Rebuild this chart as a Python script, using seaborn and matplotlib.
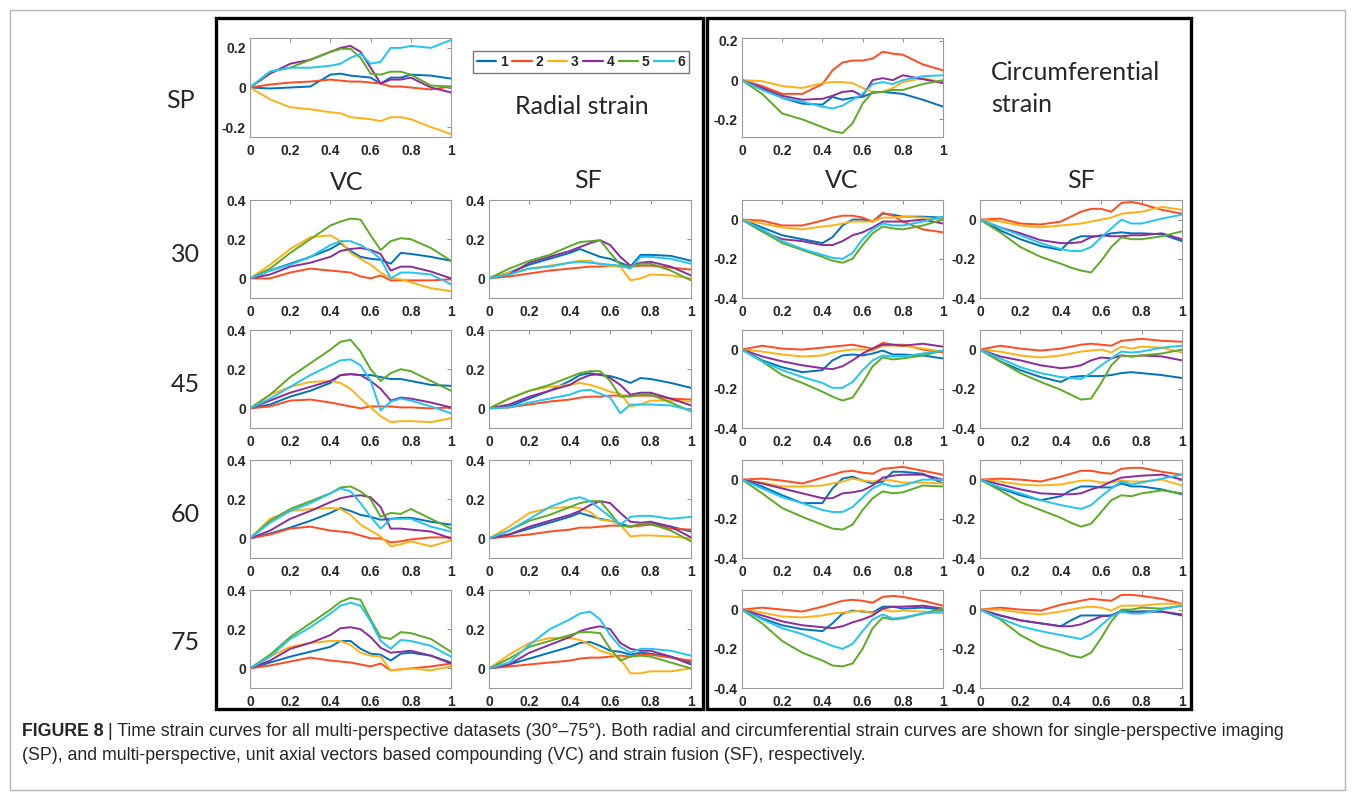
import numpy as np
import pandas as pd
import matplotlib
matplotlib.use("Agg")
import matplotlib.pyplot as plt
import seaborn as sns
from matplotlib.patches import Rectangle
from matplotlib.lines import Line2D

# normalised time axis shared by every curve
t = [0, 0.1, 0.2, 0.3, 0.4, 0.45, 0.5, 0.55, 0.6, 0.65, 0.7, 0.75, 0.8, 0.9, 1.0]
datasets = ['1', '2', '3', '4', '5', '6']
colors = ['#0072BD', '#FF4B1F', '#FFB015', '#8B2C9A', '#5DAA24', '#22C4F2']
xticks = [0, 0.2, 0.4, 0.6, 0.8, 1]

# ---- radial strain ----
rad_sp = [
    [0, -0.005, 0.0, 0.005, 0.065, 0.07, 0.06, 0.055, 0.05, 0.02, 0.05, 0.05, 0.065, 0.06, 0.045],
    [0, 0.015, 0.025, 0.03, 0.04, 0.035, 0.03, 0.03, 0.025, 0.02, 0.005, 0.005, 0.0, -0.01, 0.005],
    [0, -0.06, -0.1, -0.11, -0.125, -0.13, -0.15, -0.155, -0.16, -0.17, -0.15, -0.15, -0.16, -0.2, -0.235],
    [0, 0.07, 0.12, 0.14, 0.18, 0.2, 0.21, 0.18, 0.1, 0.02, 0.04, 0.04, 0.05, 0.0, -0.025],
    [0, 0.08, 0.1, 0.14, 0.18, 0.195, 0.195, 0.15, 0.07, 0.065, 0.08, 0.08, 0.065, 0.01, 0.005],
    [0, 0.08, 0.1, 0.1, 0.11, 0.12, 0.15, 0.17, 0.12, 0.13, 0.2, 0.2, 0.21, 0.2, 0.24],
]
rad_vc30 = [
    [0, 0.04, 0.075, 0.11, 0.15, 0.18, 0.14, 0.11, 0.1, 0.095, 0.075, 0.13, 0.125, 0.11, 0.09],
    [0, 0.0, 0.03, 0.05, 0.04, 0.035, 0.03, 0.01, 0.0, 0.015, -0.01, -0.01, -0.01, -0.01, -0.005],
    [0, 0.07, 0.15, 0.21, 0.22, 0.19, 0.13, 0.1, 0.07, 0.03, 0.0, -0.005, -0.02, -0.05, -0.065],
    [0, 0.02, 0.06, 0.08, 0.11, 0.14, 0.15, 0.155, 0.145, 0.125, 0.04, 0.06, 0.06, 0.035, 0.0],
    [0, 0.05, 0.13, 0.2, 0.27, 0.29, 0.305, 0.3, 0.22, 0.145, 0.19, 0.205, 0.2, 0.155, 0.09],
    [0, 0.04, 0.07, 0.11, 0.17, 0.19, 0.19, 0.17, 0.14, 0.1, 0.0, 0.03, 0.03, 0.02, -0.03],
]
rad_sf30 = [
    [0, 0.03, 0.07, 0.1, 0.13, 0.15, 0.13, 0.11, 0.1, 0.08, 0.06, 0.12, 0.12, 0.115, 0.09],
    [0, 0.01, 0.025, 0.04, 0.05, 0.055, 0.06, 0.06, 0.065, 0.06, 0.06, 0.065, 0.065, 0.055, 0.045],
    [0, 0.03, 0.05, 0.065, 0.08, 0.09, 0.09, 0.07, 0.065, 0.06, -0.01, 0.0, 0.02, 0.015, 0.0],
    [0, 0.02, 0.08, 0.11, 0.14, 0.16, 0.18, 0.195, 0.17, 0.11, 0.065, 0.08, 0.085, 0.06, 0.015],
    [0, 0.05, 0.09, 0.12, 0.165, 0.185, 0.19, 0.195, 0.13, 0.07, 0.06, 0.075, 0.075, 0.04, -0.01],
    [0, 0.02, 0.05, 0.06, 0.08, 0.085, 0.08, 0.075, 0.07, 0.065, 0.05, 0.11, 0.11, 0.1, 0.075],
]
rad_vc45 = [
    [0, 0.02, 0.06, 0.09, 0.13, 0.17, 0.175, 0.17, 0.17, 0.16, 0.15, 0.15, 0.14, 0.12, 0.115],
    [0, 0.01, 0.04, 0.045, 0.03, 0.02, 0.01, 0.0, 0.01, 0.01, 0.01, 0.005, 0.005, 0.0, 0.005],
    [0, 0.07, 0.11, 0.135, 0.14, 0.13, 0.1, 0.05, 0.005, -0.04, -0.07, -0.065, -0.065, -0.07, -0.05],
    [0, 0.04, 0.08, 0.11, 0.14, 0.17, 0.175, 0.17, 0.14, 0.1, 0.04, 0.055, 0.05, 0.03, 0.005],
    [0, 0.07, 0.16, 0.23, 0.3, 0.34, 0.35, 0.29, 0.2, 0.14, 0.18, 0.2, 0.19, 0.14, 0.09],
    [0, 0.05, 0.11, 0.17, 0.22, 0.245, 0.25, 0.22, 0.14, -0.01, 0.035, 0.05, 0.04, 0.01, -0.025],
]
rad_sf45 = [
    [0, 0.01, 0.05, 0.09, 0.14, 0.17, 0.18, 0.17, 0.165, 0.15, 0.13, 0.155, 0.15, 0.13, 0.105],
    [0, 0.005, 0.02, 0.035, 0.045, 0.055, 0.06, 0.06, 0.065, 0.065, 0.065, 0.065, 0.065, 0.05, 0.045],
    [0, 0.05, 0.09, 0.11, 0.12, 0.13, 0.12, 0.105, 0.085, 0.075, 0.01, 0.02, 0.04, 0.04, 0.035],
    [0, 0.02, 0.06, 0.09, 0.12, 0.15, 0.17, 0.175, 0.155, 0.12, 0.07, 0.08, 0.08, 0.05, 0.015],
    [0, 0.05, 0.09, 0.12, 0.16, 0.18, 0.19, 0.19, 0.14, 0.06, 0.06, 0.07, 0.07, 0.03, -0.015],
    [0, 0.005, 0.03, 0.05, 0.07, 0.09, 0.095, 0.075, 0.055, -0.025, 0.02, 0.02, 0.02, 0.015, -0.01],
]
rad_vc60 = [
    [0, 0.025, 0.055, 0.09, 0.13, 0.155, 0.14, 0.12, 0.11, 0.095, 0.1, 0.105, 0.105, 0.085, 0.07],
    [0, 0.02, 0.05, 0.06, 0.04, 0.035, 0.03, 0.015, 0.0, 0.0, -0.02, -0.015, -0.005, 0.005, 0.005],
    [0, 0.1, 0.14, 0.15, 0.155, 0.15, 0.12, 0.07, 0.04, 0.01, -0.04, -0.03, -0.015, -0.04, -0.01],
    [0, 0.04, 0.1, 0.14, 0.185, 0.205, 0.215, 0.22, 0.21, 0.16, 0.05, 0.05, 0.045, 0.035, 0.0],
    [0, 0.09, 0.15, 0.19, 0.23, 0.26, 0.265, 0.24, 0.2, 0.11, 0.13, 0.125, 0.15, 0.1, 0.05],
    [0, 0.08, 0.14, 0.18, 0.23, 0.255, 0.24, 0.18, 0.11, 0.05, 0.1, 0.1, 0.1, 0.06, 0.035],
]
rad_sf60 = [
    [0, 0.02, 0.05, 0.08, 0.11, 0.13, 0.115, 0.1, 0.09, 0.075, 0.06, 0.07, 0.075, 0.06, 0.035],
    [0, 0.01, 0.02, 0.035, 0.045, 0.055, 0.055, 0.06, 0.065, 0.065, 0.06, 0.065, 0.07, 0.05, 0.045],
    [0, 0.06, 0.13, 0.155, 0.16, 0.155, 0.135, 0.095, 0.09, 0.07, 0.01, 0.015, 0.015, 0.01, 0.0],
    [0, 0.02, 0.06, 0.09, 0.12, 0.14, 0.17, 0.19, 0.18, 0.13, 0.085, 0.08, 0.085, 0.06, 0.005],
    [0, 0.04, 0.09, 0.12, 0.16, 0.18, 0.19, 0.19, 0.13, 0.065, 0.06, 0.075, 0.075, 0.04, -0.015],
    [0, 0.04, 0.1, 0.16, 0.2, 0.21, 0.19, 0.15, 0.11, 0.07, 0.11, 0.115, 0.115, 0.1, 0.11],
]
rad_vc75 = [
    [0, 0.03, 0.06, 0.085, 0.11, 0.14, 0.14, 0.1, 0.075, 0.07, 0.04, 0.075, 0.08, 0.065, 0.03],
    [0, 0.015, 0.035, 0.055, 0.04, 0.035, 0.03, 0.02, 0.01, 0.025, -0.01, -0.005, 0.0, 0.01, 0.025],
    [0, 0.06, 0.11, 0.13, 0.14, 0.14, 0.12, 0.08, 0.065, 0.06, -0.01, -0.005, 0.0, -0.01, 0.01],
    [0, 0.04, 0.1, 0.13, 0.17, 0.205, 0.21, 0.2, 0.16, 0.105, 0.08, 0.085, 0.09, 0.065, 0.025],
    [0, 0.07, 0.16, 0.23, 0.3, 0.34, 0.36, 0.35, 0.25, 0.16, 0.15, 0.185, 0.18, 0.15, 0.085],
    [0, 0.06, 0.15, 0.21, 0.28, 0.32, 0.335, 0.32, 0.24, 0.14, 0.1, 0.145, 0.14, 0.115, 0.06],
]
rad_sf75 = [
    [0, 0.02, 0.05, 0.08, 0.11, 0.13, 0.135, 0.115, 0.09, 0.085, 0.07, 0.08, 0.075, 0.06, 0.03],
    [0, 0.01, 0.02, 0.03, 0.04, 0.05, 0.055, 0.055, 0.06, 0.065, 0.06, 0.07, 0.07, 0.055, 0.04],
    [0, 0.07, 0.13, 0.155, 0.155, 0.145, 0.12, 0.09, 0.075, 0.05, -0.025, -0.025, -0.015, -0.015, 0.0],
    [0, 0.02, 0.08, 0.12, 0.16, 0.19, 0.205, 0.215, 0.2, 0.13, 0.1, 0.09, 0.09, 0.06, 0.02],
    [0, 0.05, 0.11, 0.14, 0.17, 0.185, 0.185, 0.18, 0.1, 0.04, 0.06, 0.065, 0.06, 0.03, 0.0],
    [0, 0.03, 0.12, 0.2, 0.25, 0.28, 0.29, 0.25, 0.17, 0.11, 0.08, 0.1, 0.1, 0.09, 0.065],
]

# ---- circumferential strain ----
circ_sp = [
    [0, -0.04, -0.09, -0.12, -0.125, -0.085, -0.1, -0.09, -0.085, -0.065, -0.06, -0.065, -0.07, -0.1, -0.135],
    [0, -0.03, -0.07, -0.07, -0.02, 0.05, 0.09, 0.1, 0.1, 0.11, 0.145, 0.135, 0.13, 0.08, 0.05],
    [0, -0.005, -0.03, -0.04, -0.015, -0.01, -0.01, -0.015, -0.04, -0.06, -0.06, -0.04, -0.01, 0.01, -0.01],
    [0, -0.04, -0.08, -0.1, -0.095, -0.08, -0.06, -0.055, -0.08, 0.0, 0.01, 0.0, 0.025, 0.005, -0.015],
    [0, -0.07, -0.17, -0.2, -0.24, -0.26, -0.27, -0.22, -0.12, -0.06, -0.06, -0.05, -0.05, -0.02, 0.0],
    [0, -0.05, -0.09, -0.11, -0.135, -0.145, -0.13, -0.1, -0.07, -0.02, -0.01, -0.02, 0.0, 0.02, 0.025],
]
circ_vc30 = [
    [0, -0.04, -0.08, -0.1, -0.12, -0.09, -0.03, 0.0, 0.0, -0.01, 0.03, 0.025, 0.015, 0.015, 0.01],
    [0, -0.005, -0.03, -0.03, -0.005, 0.01, 0.02, 0.02, 0.01, -0.01, 0.035, 0.02, -0.01, -0.05, -0.065],
    [0, -0.02, -0.04, -0.05, -0.035, -0.03, -0.02, -0.01, -0.01, -0.01, 0.01, 0.01, 0.015, 0.01, 0.0],
    [0, -0.06, -0.1, -0.11, -0.13, -0.13, -0.11, -0.08, -0.065, -0.04, -0.01, -0.01, -0.01, 0.0, -0.02],
    [0, -0.06, -0.12, -0.155, -0.19, -0.21, -0.22, -0.2, -0.13, -0.07, -0.035, -0.045, -0.05, -0.03, 0.0],
    [0, -0.05, -0.11, -0.15, -0.18, -0.195, -0.2, -0.17, -0.1, -0.05, -0.02, -0.03, -0.03, -0.01, 0.015],
]
circ_sf30 = [
    [0, -0.055, -0.1, -0.135, -0.155, -0.105, -0.085, -0.085, -0.085, -0.07, -0.065, -0.07, -0.07, -0.075, -0.11],
    [0, 0.005, -0.02, -0.025, -0.01, 0.015, 0.04, 0.055, 0.055, 0.04, 0.085, 0.09, 0.08, 0.05, 0.03],
    [0, -0.01, -0.03, -0.04, -0.03, -0.025, -0.02, -0.01, 0.0, 0.01, 0.03, 0.035, 0.04, 0.065, 0.05],
    [0, -0.04, -0.07, -0.105, -0.12, -0.12, -0.115, -0.09, -0.08, -0.085, -0.085, -0.08, -0.08, -0.07, -0.1],
    [0, -0.065, -0.14, -0.19, -0.225, -0.245, -0.26, -0.27, -0.21, -0.14, -0.09, -0.1, -0.1, -0.085, -0.06],
    [0, -0.04, -0.08, -0.12, -0.15, -0.16, -0.16, -0.14, -0.09, -0.045, 0.0, -0.02, -0.02, 0.005, 0.025],
]
circ_vc45 = [
    [0, -0.055, -0.09, -0.115, -0.105, -0.055, -0.03, -0.025, -0.03, -0.02, -0.005, -0.025, -0.025, -0.03, -0.045],
    [0, 0.02, 0.005, 0.0, 0.01, 0.015, 0.02, 0.025, 0.015, 0.005, 0.035, 0.025, 0.025, 0.0, -0.015],
    [0, -0.01, -0.025, -0.035, -0.03, -0.015, -0.005, 0.0, 0.0, -0.005, 0.02, 0.02, 0.02, 0.005, -0.01],
    [0, -0.035, -0.06, -0.08, -0.095, -0.1, -0.085, -0.055, -0.02, 0.005, 0.025, 0.025, 0.02, 0.03, 0.015],
    [0, -0.06, -0.13, -0.17, -0.215, -0.24, -0.26, -0.245, -0.17, -0.085, -0.04, -0.05, -0.045, -0.03, -0.005],
    [0, -0.06, -0.105, -0.14, -0.17, -0.195, -0.195, -0.165, -0.105, -0.055, -0.03, -0.035, -0.035, -0.02, -0.005],
]
circ_sf45 = [
    [0, -0.06, -0.105, -0.14, -0.165, -0.14, -0.135, -0.135, -0.135, -0.13, -0.12, -0.115, -0.12, -0.13, -0.145],
    [0, 0.02, 0.005, -0.005, 0.005, 0.015, 0.025, 0.03, 0.025, 0.02, 0.045, 0.05, 0.055, 0.045, 0.04],
    [0, -0.01, -0.03, -0.04, -0.03, -0.02, -0.01, -0.005, 0.0, -0.015, 0.015, 0.005, 0.015, 0.01, -0.015],
    [0, -0.035, -0.055, -0.08, -0.095, -0.09, -0.08, -0.055, -0.04, -0.045, -0.03, -0.035, -0.03, -0.035, -0.055],
    [0, -0.06, -0.12, -0.165, -0.205, -0.23, -0.255, -0.25, -0.17, -0.08, -0.03, -0.035, -0.03, -0.02, 0.0],
    [0, -0.045, -0.09, -0.12, -0.14, -0.145, -0.15, -0.12, -0.08, -0.045, -0.01, -0.015, -0.01, 0.01, 0.02],
]
circ_vc60 = [
    [0, -0.035, -0.08, -0.12, -0.12, -0.045, 0.005, 0.015, -0.005, -0.02, -0.01, 0.04, 0.04, 0.03, -0.02],
    [0, 0.005, -0.005, -0.02, 0.01, 0.025, 0.04, 0.045, 0.035, 0.03, 0.055, 0.06, 0.065, 0.045, 0.025],
    [0, -0.015, -0.035, -0.035, -0.03, -0.02, -0.01, 0.005, -0.005, -0.01, 0.0, -0.005, -0.015, -0.015, -0.02],
    [0, -0.02, -0.045, -0.07, -0.095, -0.095, -0.07, -0.065, -0.055, -0.03, 0.01, 0.02, 0.025, 0.025, 0.0],
    [0, -0.07, -0.145, -0.19, -0.23, -0.25, -0.255, -0.23, -0.155, -0.095, -0.06, -0.07, -0.065, -0.03, -0.035],
    [0, -0.045, -0.09, -0.12, -0.155, -0.165, -0.165, -0.14, -0.09, -0.045, -0.02, -0.035, -0.03, 0.0, 0.0],
]
circ_sf60 = [
    [0, -0.045, -0.08, -0.105, -0.085, -0.055, -0.035, -0.035, -0.04, -0.04, -0.02, -0.035, -0.035, -0.05, -0.075],
    [0, 0.005, 0.0, -0.01, 0.015, 0.03, 0.045, 0.045, 0.035, 0.03, 0.055, 0.06, 0.06, 0.04, 0.025],
    [0, -0.01, -0.025, -0.03, -0.025, -0.015, -0.005, -0.005, -0.015, -0.015, -0.005, -0.01, -0.01, 0.0, -0.03],
    [0, -0.025, -0.05, -0.07, -0.075, -0.075, -0.07, -0.05, -0.035, -0.01, 0.01, 0.015, 0.02, 0.025, 0.0],
    [0, -0.055, -0.115, -0.155, -0.195, -0.22, -0.24, -0.225, -0.165, -0.105, -0.08, -0.085, -0.07, -0.055, -0.07],
    [0, -0.04, -0.07, -0.105, -0.13, -0.14, -0.15, -0.13, -0.085, -0.045, -0.01, -0.025, -0.015, 0.005, 0.025],
]
circ_vc75 = [
    [0, -0.045, -0.08, -0.1, -0.11, -0.07, -0.02, -0.005, -0.01, -0.015, 0.015, 0.015, 0.005, 0.01, 0.0],
    [0, 0.01, 0.0, -0.01, 0.015, 0.03, 0.045, 0.05, 0.045, 0.035, 0.065, 0.07, 0.065, 0.045, 0.02],
    [0, -0.015, -0.035, -0.04, -0.03, -0.02, -0.015, -0.01, -0.005, -0.02, 0.0, -0.01, -0.005, -0.01, -0.02],
    [0, -0.03, -0.06, -0.08, -0.09, -0.095, -0.085, -0.065, -0.05, -0.03, 0.005, 0.015, 0.015, 0.02, 0.005],
    [0, -0.07, -0.16, -0.22, -0.26, -0.285, -0.29, -0.275, -0.2, -0.095, -0.04, -0.05, -0.045, -0.02, 0.005],
    [0, -0.05, -0.095, -0.125, -0.165, -0.185, -0.2, -0.175, -0.11, -0.05, -0.025, -0.045, -0.04, -0.02, -0.01],
]
circ_sf75 = [
    [0, -0.03, -0.055, -0.07, -0.085, -0.055, -0.03, -0.03, -0.03, -0.03, -0.005, -0.01, -0.01, -0.01, -0.03],
    [0, 0.01, 0.0, -0.005, 0.025, 0.035, 0.045, 0.055, 0.05, 0.045, 0.075, 0.075, 0.07, 0.055, 0.03],
    [0, 0.0, -0.015, -0.025, -0.01, 0.0, 0.01, 0.015, 0.01, -0.005, 0.02, 0.02, 0.02, 0.03, 0.03],
    [0, -0.03, -0.055, -0.07, -0.085, -0.085, -0.075, -0.055, -0.035, -0.03, -0.01, -0.015, -0.01, -0.01, -0.025],
    [0, -0.05, -0.13, -0.185, -0.215, -0.235, -0.245, -0.22, -0.145, -0.06, 0.0, 0.0, 0.01, 0.005, 0.02],
    [0, -0.045, -0.085, -0.11, -0.13, -0.14, -0.15, -0.125, -0.08, -0.035, -0.01, -0.02, -0.02, 0.0, 0.02],
]

W, H = 1355, 800
sns.set_style('white')
plt.rcParams['font.family'] = ['Liberation Sans', 'DejaVu Sans']
plt.rcParams['axes.unicode_minus'] = False

fig = plt.figure(figsize=(W / 100, H / 100), dpi=100)


def px_box(x0, y0, x1, y1):
    return [x0 / W, 1 - y1 / H, (x1 - x0) / W, (y1 - y0) / H]


def draw_panel(curves, box, ylim, yticks):
    ax = fig.add_axes(px_box(*box))
    df = pd.DataFrame({
        't': np.tile(t, len(datasets)),
        'strain': np.concatenate(curves),
        'dataset': np.repeat(datasets, len(t)),
    })
    sns.lineplot(data=df, x='t', y='strain', hue='dataset', palette=colors,
                 linewidth=1.4, legend=False, ax=ax)
    ax.set_xlim(0, 1)
    ax.set_ylim(*ylim)
    ax.set_xticks(xticks)
    ax.set_yticks(yticks)
    ax.set_xticklabels([f'{v:g}' for v in xticks], fontweight='bold', fontsize=10)
    ax.set_yticklabels([f'{v:g}' for v in yticks], fontweight='bold', fontsize=10)
    ax.set_xlabel('')
    ax.set_ylabel('')
    ax.tick_params(axis='both', direction='in', top=True, right=True, length=3,
                   width=0.7, color='#8c8c8c')
    ax.tick_params(axis='x', pad=5)
    ax.tick_params(axis='y', pad=3)
    for s in ax.spines.values():
        s.set_color('#9a9a9a')
        s.set_linewidth(0.8)
    return ax


rad_rows = [200, 330, 460, 590]
cols = {'rvc': (250, 451), 'rsf': (489, 691), 'cvc': (742, 943), 'csf': (980, 1182)}
rad_lim, circ_lim = (-0.1, 0.4), (-0.4, 0.1)
rad_ticks, circ_ticks = [0, 0.2, 0.4], [-0.4, -0.2, 0]

draw_panel(rad_sp, (250, 38, 451, 137), (-0.25, 0.25), [-0.2, 0, 0.2])
draw_panel(circ_sp, (742, 38, 943, 137), (-0.29, 0.215), [-0.2, 0, 0.2])

rad_vc = [rad_vc30, rad_vc45, rad_vc60, rad_vc75]
rad_sf = [rad_sf30, rad_sf45, rad_sf60, rad_sf75]
circ_vc = [circ_vc30, circ_vc45, circ_vc60, circ_vc75]
circ_sf = [circ_sf30, circ_sf45, circ_sf60, circ_sf75]
for i, top in enumerate(rad_rows):
    bot = top + 98
    draw_panel(rad_vc[i], (cols['rvc'][0], top, cols['rvc'][1], bot), rad_lim, rad_ticks)
    draw_panel(rad_sf[i], (cols['rsf'][0], top, cols['rsf'][1], bot), rad_lim, rad_ticks)
    draw_panel(circ_vc[i], (cols['cvc'][0], top, cols['cvc'][1], bot), circ_lim, circ_ticks)
    draw_panel(circ_sf[i], (cols['csf'][0], top, cols['csf'][1], bot), circ_lim, circ_ticks)


def fig_text(x, y, s, **kw):
    return fig.text(x / W, 1 - y / H, s, **kw)


big = dict(fontsize=18, family=['Lato', 'DejaVu Sans'], va='center')
fig_text(180, 100, 'SP', ha='center', **big)
for lab, y in zip(['30', '45', '60', '75'], [255, 385, 515, 643]):
    fig_text(185, y, lab, ha='center', **big)
fig_text(347, 182, 'VC', ha='center', **big)
fig_text(588, 180, 'SF', ha='center', **big)
fig_text(842, 180, 'VC', ha='center', **big)
fig_text(1081, 180, 'SF', ha='center', **big)
fig_text(582, 106, 'Radial strain', ha='center', **big)
fig_text(991, 72, 'Circumferential', ha='left', **big)
fig_text(991, 104, 'strain', ha='left', **big)

# legend
handles = [Line2D([0], [0], color=c, lw=1.6) for c in colors]
leg = fig.legend(handles, datasets, loc='center', ncol=6,
                 bbox_to_anchor=(581 / W, 1 - 62 / H), frameon=True, fancybox=False,
                 edgecolor='#555555', handlelength=1.4, handletextpad=0.25,
                 columnspacing=0.35, borderpad=0.3, borderaxespad=0,
                 prop={'weight': 'bold', 'size': 10})
leg.get_frame().set_linewidth(1.0)

# boxes
fig.patches.append(Rectangle((10 / W, 1 - 790 / H), 1335 / W, 780 / H, transform=fig.transFigure,
                             fill=False, lw=1.0, ec='#b5b5b5'))
fig.patches.append(Rectangle((216 / W, 1 - 709 / H), 487 / W, 691 / H, transform=fig.transFigure,
                             fill=False, lw=2.4, ec='black'))
fig.patches.append(Rectangle((707 / W, 1 - 709 / H), 484 / W, 691 / H, transform=fig.transFigure,
                             fill=False, lw=2.4, ec='black'))

# caption
cap_font = ['Liberation Sans Narrow', 'Liberation Sans', 'DejaVu Sans']
cap_size = 12.8
t1 = fig_text(22, 731, 'FIGURE 8', fontsize=cap_size, fontweight='bold',
              family=cap_font, va='center')
fig.canvas.draw()
r = fig.canvas.get_renderer()
x_end = t1.get_window_extent(r).x1
fig.text((x_end + 4) / W, 1 - 731 / H,
         '| Time strain curves for all multi-perspective datasets (30°–75°). Both radial and '
         'circumferential strain curves are shown for single-perspective imaging',
         fontsize=cap_size, family=cap_font, va='center')
fig_text(22, 756, '(SP), and multi-perspective, unit axial vectors based compounding (VC) and strain '
         'fusion (SF), respectively.', fontsize=cap_size, family=cap_font, va='center')

fig.savefig('out.png', dpi=100)
